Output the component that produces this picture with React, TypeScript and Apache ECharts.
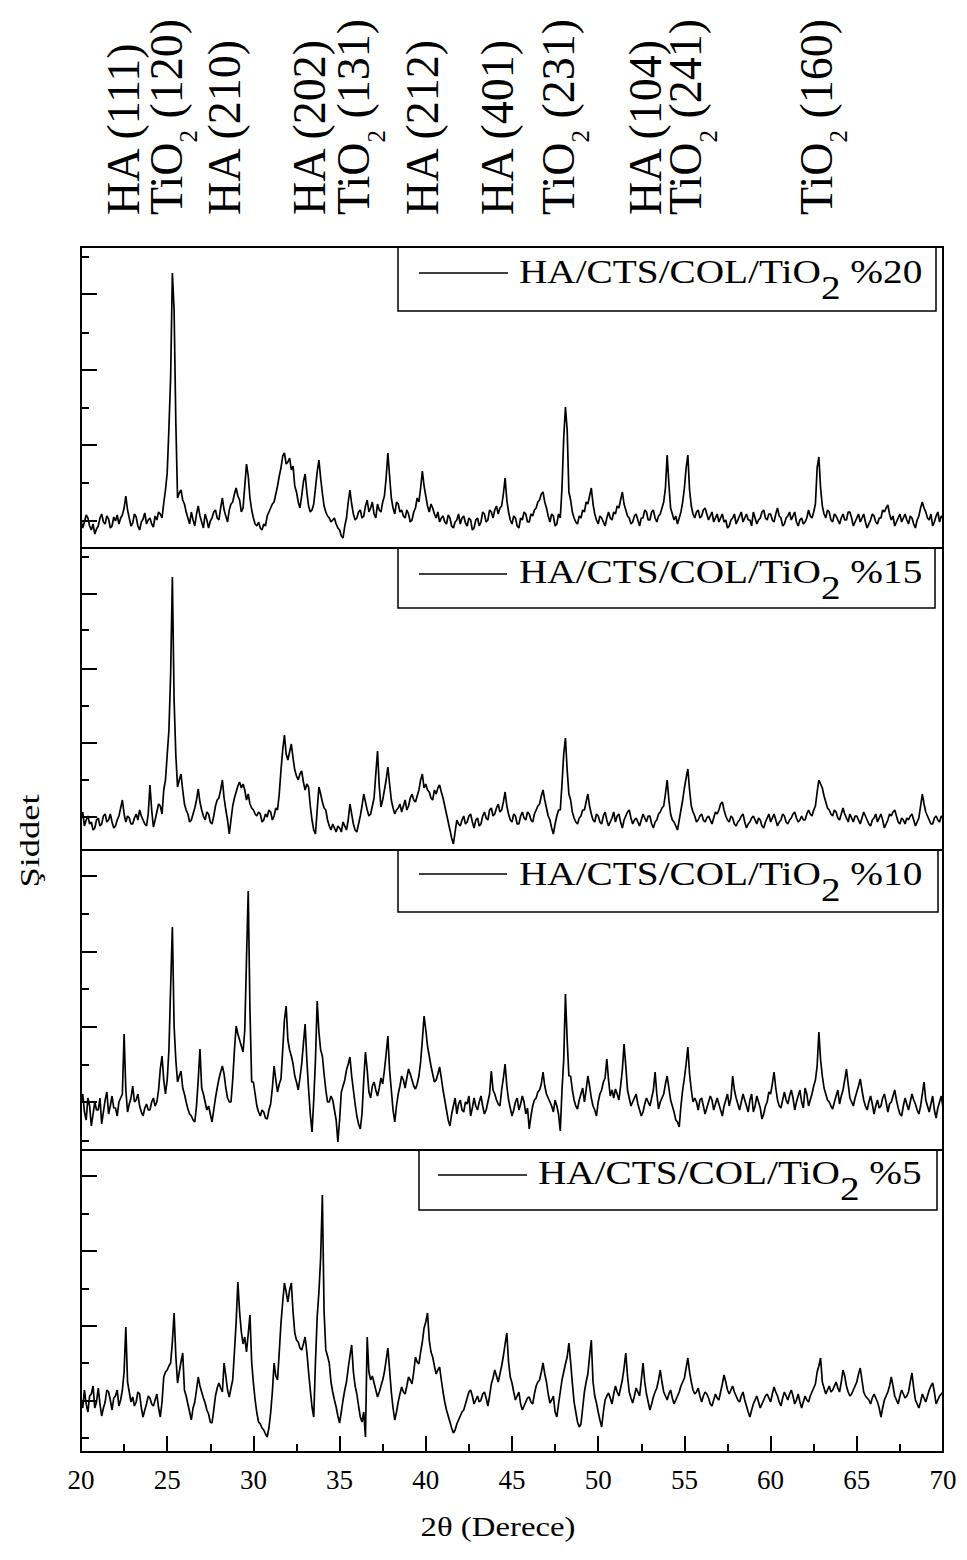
import React, { useEffect, useRef } from 'react';
import * as echarts from 'echarts';

// 2θ sampling of the traces (degrees)
const THETA_START = 20;
const THETA_STEP = 0.1;

// Axis ticks (2θ)
const xMin = 20;
const xMax = 70;
const xInterval = 5;

// Sample names (top to bottom)
const sampleNames = [
  'HA/CTS/COL/TiO2 %20',
  'HA/CTS/COL/TiO2 %15',
  'HA/CTS/COL/TiO2 %10',
  'HA/CTS/COL/TiO2 %5',
];

// Peak assignment labels and the 2θ of their columns
const peakLabels = [
  'HA (111)', 'TiO2 (120)', 'HA (210)', 'HA (202)', 'TiO2 (131)', 'HA (212)',
  'HA (401)', 'TiO2 (231)', 'HA (104)', 'TiO2 (241)', 'TiO2 (160)',
];
const peakLabelTheta = [22.6, 25.05, 28.45, 33.35, 35.95, 39.95, 44.3, 47.8, 52.85, 55.2, 62.75];

// Intensities (a.u.), one value per 0.1° from 20.0° to 70.0° (one row per degree)
const int20 = [
  28, 20, 26, 33, 30, 22, 18, 24, 14, 19,
  22, 30, 34, 26, 24, 32, 29, 20, 22, 31,
  27, 33, 24, 30, 33, 40, 52, 38, 30, 22,
  25, 34, 31, 22, 18, 26, 29, 35, 24, 28,
  30, 24, 21, 32, 28, 36, 34, 30, 45, 58,
  75, 120, 171, 275, 238, 126, 50, 55, 58, 48,
  44, 36, 30, 24, 36, 28, 22, 34, 42, 32,
  26, 20, 34, 28, 20, 27, 30, 36, 38, 30,
  28, 40, 50, 38, 32, 26, 38, 44, 46, 54,
  60, 52, 48, 36, 40, 62, 84, 72, 50, 38,
  30, 24, 22, 26, 20, 18, 24, 22, 32, 36,
  40, 44, 46, 54, 62, 72, 80, 92, 95, 84,
  86, 90, 78, 82, 62, 56, 46, 40, 52, 66,
  74, 56, 42, 36, 38, 44, 60, 76, 88, 70,
  55, 42, 36, 32, 30, 26, 28, 30, 24, 20,
  18, 12, 10, 22, 30, 46, 58, 44, 34, 28,
  30, 36, 38, 30, 32, 42, 48, 36, 40, 46,
  34, 30, 44, 38, 36, 46, 52, 70, 95, 72,
  50, 40, 34, 46, 44, 36, 38, 32, 30, 38,
  34, 26, 28, 36, 40, 50, 46, 60, 77, 62,
  52, 42, 36, 44, 40, 34, 30, 36, 26, 30,
  32, 26, 24, 33, 30, 22, 20, 26, 28, 34,
  24, 30, 32, 25, 22, 30, 28, 18, 20, 28,
  30, 22, 26, 36, 34, 26, 28, 38, 36, 30,
  38, 42, 34, 40, 42, 54, 70, 48, 36, 28,
  24, 32, 30, 22, 20, 30, 28, 36, 34, 26,
  26, 34, 32, 38, 40, 46, 48, 54, 56, 46,
  40, 32, 26, 34, 32, 22, 24, 34, 30, 60,
  110, 141, 118, 56, 48, 36, 30, 26, 24, 32,
  30, 38, 36, 46, 44, 52, 60, 44, 34, 28,
  24, 32, 30, 26, 22, 30, 36, 30, 28, 36,
  34, 42, 40, 48, 56, 44, 38, 32, 30, 24,
  26, 32, 34, 28, 22, 30, 30, 38, 36, 28,
  28, 36, 38, 30, 26, 32, 34, 40, 46, 60,
  93, 64, 40, 34, 28, 32, 24, 30, 36, 46,
  60, 80, 93, 58, 42, 34, 30, 36, 38, 30,
  32, 38, 40, 34, 28, 32, 36, 26, 30, 34,
  26, 30, 34, 26, 28, 20, 22, 28, 30, 34,
  24, 28, 32, 36, 26, 30, 34, 28, 28, 22,
  36, 30, 24, 28, 30, 36, 38, 30, 28, 34,
  34, 28, 26, 34, 40, 32, 30, 22, 24, 30,
  32, 36, 28, 32, 36, 26, 22, 28, 30, 24,
  26, 30, 38, 32, 30, 36, 44, 80, 91, 60,
  42, 34, 30, 38, 36, 28, 26, 34, 32, 28,
  24, 30, 34, 28, 28, 36, 36, 30, 22, 26,
  30, 34, 26, 30, 34, 26, 20, 24, 28, 34,
  32, 26, 24, 30, 30, 38, 36, 40, 43, 34,
  28, 32, 22, 26, 30, 34, 26, 30, 34, 28,
  24, 32, 30, 24, 20, 28, 32, 40, 46, 40,
  36, 30, 28, 34, 22, 26, 32, 36, 26, 32,
  30,
];
const int15 = [
  30, 38, 24, 30, 34, 26, 28, 20, 22, 30,
  32, 24, 26, 34, 36, 28, 30, 36, 28, 22,
  24, 30, 34, 42, 50, 36, 28, 34, 32, 26,
  26, 32, 36, 30, 40, 34, 30, 26, 24, 36,
  65, 40, 23, 30, 38, 46, 44, 36, 60, 70,
  95, 120, 176, 273, 150, 95, 63, 70, 76, 60,
  46, 40, 36, 28, 30, 36, 42, 50, 61, 48,
  40, 34, 30, 38, 36, 28, 26, 34, 44, 50,
  52, 60, 70, 52, 40, 30, 16, 30, 44, 52,
  58, 64, 68, 62, 66, 60, 50, 56, 46, 42,
  40, 36, 34, 38, 36, 28, 30, 36, 33, 40,
  38, 30, 34, 42, 40, 56, 80, 100, 115, 96,
  90, 98, 106, 92, 80, 74, 70, 76, 79, 68,
  60, 66, 63, 44, 30, 20, 16, 40, 63, 56,
  48, 42, 40, 30, 24, 20, 26, 22, 18, 24,
  22, 18, 28, 24, 20, 30, 46, 36, 26, 20,
  18, 26, 34, 44, 56, 48, 40, 34, 36, 44,
  52, 76, 99, 64, 43, 50, 60, 70, 83, 66,
  50, 42, 36, 40, 42, 46, 38, 44, 50, 40,
  44, 52, 56, 50, 48, 54, 60, 70, 76, 62,
  66, 60, 58, 52, 50, 60, 56, 62, 65, 58,
  52, 44, 36, 28, 20, 12, 6, 18, 30, 26,
  24, 30, 34, 26, 28, 34, 36, 28, 22, 30,
  32, 24, 26, 34, 38, 32, 30, 40, 42, 34,
  36, 42, 46, 38, 40, 48, 58, 44, 36, 30,
  28, 36, 34, 26, 26, 34, 38, 32, 30, 38,
  36, 30, 28, 36, 40, 44, 46, 54, 60, 50,
  42, 34, 30, 22, 16, 26, 34, 40, 40, 66,
  96, 112, 80, 56, 50, 38, 32, 28, 26, 32,
  34, 40, 40, 48, 56, 44, 36, 30, 28, 36,
  34, 28, 26, 34, 38, 30, 24, 28, 32, 38,
  28, 34, 36, 28, 22, 30, 34, 38, 40, 32,
  26, 30, 32, 28, 24, 30, 36, 32, 28, 34,
  34, 26, 22, 28, 30, 36, 38, 42, 44, 56,
  70, 50, 36, 30, 28, 24, 20, 30, 40, 50,
  62, 72, 81, 60, 44, 38, 34, 28, 30, 34,
  36, 30, 28, 32, 34, 30, 26, 32, 38, 36,
  40, 46, 48, 40, 34, 30, 28, 34, 32, 26,
  24, 28, 30, 34, 36, 28, 22, 26, 28, 32,
  34, 30, 26, 32, 30, 24, 22, 28, 32, 36,
  28, 32, 36, 30, 24, 28, 30, 36, 34, 28,
  26, 30, 32, 36, 38, 32, 28, 30, 34, 30,
  30, 36, 40, 36, 34, 40, 44, 58, 70, 66,
  62, 54, 48, 42, 40, 36, 34, 40, 38, 32,
  30, 36, 42, 36, 32, 28, 36, 32, 28, 34,
  34, 30, 26, 32, 38, 34, 30, 26, 24, 30,
  32, 36, 28, 32, 36, 30, 22, 26, 30, 36,
  34, 38, 40, 34, 28, 26, 32, 30, 26, 32,
  30, 34, 36, 30, 24, 28, 32, 44, 56, 46,
  38, 34, 30, 26, 26, 32, 34, 30, 28, 34,
  32,
];
const int10 = [
  46, 56, 38, 30, 52, 44, 24, 36, 48, 40,
  40, 52, 26, 38, 50, 58, 36, 44, 54, 42,
  42, 34, 48, 52, 56, 116, 60, 38, 46, 52,
  64, 48, 50, 56, 44, 38, 34, 42, 46, 40,
  40, 48, 52, 44, 48, 60, 81, 94, 70, 56,
  70, 100, 163, 223, 124, 90, 68, 74, 79, 62,
  56, 48, 41, 36, 34, 30, 28, 44, 70, 101,
  62, 56, 48, 40, 44, 36, 28, 40, 52, 62,
  71, 78, 84, 76, 62, 52, 48, 48, 70, 100,
  124, 116, 110, 104, 98, 120, 191, 259, 140, 68,
  68, 56, 44, 38, 34, 40, 38, 32, 31, 40,
  46, 62, 84, 70, 58, 66, 71, 100, 130, 144,
  110, 100, 94, 86, 74, 68, 60, 72, 86, 106,
  126, 90, 61, 36, 18, 50, 90, 149, 118, 100,
  94, 76, 60, 48, 48, 54, 50, 40, 30, 8,
  30, 58, 64, 70, 80, 86, 93, 74, 60, 46,
  34, 26, 21, 36, 70, 98, 80, 58, 52, 64,
  68, 60, 54, 62, 72, 66, 80, 96, 114, 80,
  60, 40, 28, 44, 56, 64, 74, 70, 62, 72,
  81, 76, 70, 64, 61, 66, 74, 88, 110, 134,
  120, 104, 94, 84, 76, 68, 70, 76, 83, 72,
  60, 50, 40, 30, 24, 36, 44, 52, 36, 46,
  50, 40, 38, 48, 46, 54, 34, 42, 52, 44,
  40, 48, 54, 44, 36, 40, 48, 56, 79, 60,
  56, 50, 46, 44, 60, 72, 86, 64, 50, 42,
  34, 40, 48, 52, 40, 46, 54, 48, 36, 42,
  21, 34, 44, 50, 52, 58, 60, 66, 78, 64,
  56, 52, 48, 44, 38, 50, 44, 36, 19, 60,
  90, 156, 110, 74, 74, 60, 50, 44, 41, 50,
  56, 62, 48, 60, 74, 64, 52, 44, 40, 34,
  48, 56, 60, 68, 72, 91, 70, 54, 60, 52,
  61, 56, 50, 64, 80, 106, 84, 60, 52, 44,
  48, 52, 56, 46, 40, 34, 38, 46, 52, 48,
  44, 52, 60, 78, 56, 41, 48, 52, 56, 66,
  74, 62, 50, 44, 38, 30, 28, 23, 44, 60,
  72, 86, 103, 76, 60, 48, 52, 48, 40, 50,
  52, 44, 36, 42, 48, 54, 50, 40, 46, 52,
  46, 40, 34, 44, 50, 56, 44, 52, 74, 60,
  52, 46, 40, 48, 56, 50, 44, 38, 50, 56,
  38, 44, 54, 48, 42, 31, 36, 44, 48, 58,
  56, 66, 78, 62, 50, 44, 42, 50, 58, 50,
  46, 54, 60, 52, 40, 48, 54, 60, 48, 42,
  62, 56, 44, 50, 56, 64, 70, 84, 118, 90,
  74, 62, 56, 50, 48, 44, 41, 48, 54, 60,
  46, 54, 60, 70, 81, 66, 52, 48, 44, 52,
  58, 64, 71, 60, 50, 44, 40, 48, 54, 46,
  36, 44, 50, 42, 44, 52, 56, 48, 38, 46,
  48, 54, 60, 50, 42, 36, 34, 44, 52, 46,
  40, 48, 56, 50, 46, 40, 36, 44, 56, 68,
  50, 44, 38, 46, 54, 40, 32, 42, 48, 54,
  42,
];
const int5 = [
  52, 44, 62, 48, 40, 56, 58, 66, 44, 50,
  64, 48, 36, 44, 50, 62, 60, 52, 42, 54,
  56, 62, 46, 52, 62, 80, 125, 70, 60, 50,
  55, 46, 50, 60, 58, 44, 35, 42, 48, 56,
  54, 48, 46, 52, 58, 44, 35, 50, 75, 80,
  82, 86, 89, 110, 139, 96, 69, 80, 90, 99,
  62, 56, 48, 40, 32, 44, 50, 62, 75, 66,
  60, 54, 49, 42, 38, 30, 29, 42, 56, 64,
  69, 64, 60, 89, 76, 62, 55, 64, 72, 100,
  130, 170, 140, 120, 108, 115, 100, 118, 137, 90,
  69, 52, 39, 30, 28, 24, 22, 18, 15, 24,
  39, 60, 89, 76, 72, 100, 129, 150, 169, 160,
  150, 162, 169, 140, 119, 112, 110, 104, 102, 108,
  115, 100, 80, 62, 45, 35, 90, 135, 160, 194,
  257, 140, 102, 96, 89, 70, 60, 52, 45, 36,
  29, 40, 52, 62, 70, 84, 96, 107, 80, 66,
  58, 46, 35, 30, 40, 15, 115, 80, 72, 76,
  69, 62, 55, 60, 66, 72, 80, 92, 104, 82,
  60, 44, 32, 40, 50, 58, 65, 60, 58, 66,
  75, 72, 68, 80, 95, 90, 88, 100, 110, 124,
  130, 139, 112, 100, 95, 86, 78, 82, 85, 72,
  60, 50, 42, 36, 30, 24, 19, 22, 28, 32,
  36, 40, 42, 48, 54, 60, 62, 56, 48, 52,
  56, 50, 52, 58, 60, 54, 46, 56, 68, 74,
  82, 76, 70, 78, 86, 96, 108, 119, 90, 75,
  69, 60, 52, 56, 60, 48, 42, 46, 50, 54,
  55, 50, 48, 58, 66, 70, 72, 80, 89, 78,
  70, 58, 49, 52, 56, 40, 35, 48, 60, 72,
  80, 88, 95, 109, 90, 69, 50, 40, 30, 25,
  28, 44, 60, 70, 78, 96, 112, 70, 56, 49,
  40, 32, 25, 40, 52, 56, 59, 54, 48, 58,
  66, 60, 56, 64, 72, 84, 99, 76, 60, 54,
  49, 56, 64, 60, 56, 72, 89, 70, 58, 50,
  42, 48, 55, 60, 64, 72, 82, 70, 60, 56,
  52, 58, 62, 54, 48, 52, 56, 60, 66, 70,
  74, 84, 94, 80, 70, 62, 58, 60, 64, 56,
  50, 56, 60, 58, 54, 48, 46, 52, 58, 54,
  52, 60, 68, 77, 70, 62, 58, 62, 66, 60,
  56, 52, 50, 56, 60, 52, 46, 40, 35, 42,
  48, 52, 56, 50, 44, 48, 52, 56, 58, 54,
  50, 58, 65, 60, 56, 50, 46, 54, 60, 56,
  52, 58, 62, 56, 48, 52, 58, 50, 44, 50,
  56, 52, 50, 56, 60, 64, 68, 80, 86, 94,
  70, 64, 58, 62, 66, 60, 62, 66, 70, 64,
  60, 70, 82, 76, 66, 60, 56, 58, 62, 66,
  70, 78, 84, 72, 60, 56, 54, 52, 48, 54,
  58, 54, 50, 44, 35, 44, 52, 56, 60, 66,
  75, 66, 56, 52, 48, 56, 62, 58, 54, 56,
  60, 70, 79, 64, 52, 48, 44, 50, 58, 54,
  50, 56, 62, 66, 69, 60, 48, 52, 56, 58,
  60,
];
const intensities = [int20, int15, int10, int5];

// Per-panel intensity range and tick values (a.u.)
const yMax = [301, 302, 300, 302];
const yMajorTicks = [
  [27.5, 103, 178, 254],
  [33, 107, 181, 256],
  [48, 123, 198, 274],
  [51, 126, 201, 276],
];
const yMinorTicks = [
  [65, 140, 215, 291],
  [70, 144, 220, 293],
  [9, 85, 161, 236],
  [14, 89, 163, 238],
];

// ---------- layout (pixels) ----------
const FONT = "'Liberation Serif', 'Times New Roman', serif";
const W = 967;
const H = 1560;
const PLOT_LEFT = 81;
const PLOT_RIGHT = 943;
const panelTop = [247, 548, 850, 1150];
const panelHeight = [301, 302, 300, 302];
const legendLayout = [
  { boxL: 398, boxR: 936, boxB: 311, lx1: 419, lx2: 508, ly: 273, tx: 519, ty: 256 },
  { boxL: 398, boxR: 935, boxB: 608, lx1: 419, lx2: 507, ly: 574, tx: 519, ty: 556 },
  { boxL: 398, boxR: 938, boxB: 912, lx1: 419, lx2: 507, ly: 874, tx: 519, ty: 858 },
  { boxL: 419, boxR: 937, boxB: 1210, lx1: 438, lx2: 527, ly: 1175, tx: 538, ty: 1157 },
];

function toRich(s: string) {
  return s
    .split('TiO2')
    .map((p) => (p ? `{n|${p}}` : ''))
    .join('{n|TiO}{s|2}');
}

export default function App() {
  const ref = useRef<HTMLDivElement>(null);

  useEffect(() => {
    const el = ref.current!;
    const chart = echarts.init(el, undefined, { renderer: 'svg' });

    const grids = panelTop.map((top, k) => ({
      left: PLOT_LEFT,
      width: PLOT_RIGHT - PLOT_LEFT,
      top,
      height: panelHeight[k],
      show: true,
      borderColor: '#000',
      borderWidth: 2,
      backgroundColor: 'transparent',
    }));

    const xAxes = panelTop.map((_, k) => {
      const bottom = k === panelTop.length - 1;
      return {
        type: 'value',
        gridIndex: k,
        min: xMin,
        max: xMax,
        interval: xInterval,
        position: 'bottom',
        axisLine: { show: bottom, onZero: false, lineStyle: { color: '#000', width: 2 } },
        axisTick: { show: bottom, inside: true, length: 16, lineStyle: { color: '#000', width: 2 } },
        minorTick: { show: bottom, splitNumber: 2, length: 8, lineStyle: { color: '#000', width: 2 } },
        axisLabel: {
          show: bottom,
          color: '#000',
          fontFamily: FONT,
          fontSize: 27,
          margin: 14,
        },
        splitLine: { show: false },
        minorSplitLine: { show: false },
      };
    });

    const yAxes: any[] = [];
    panelTop.forEach((_, k) => {
      yAxes.push({
        type: 'value',
        gridIndex: k,
        min: 0,
        max: yMax[k],
        position: 'left',
        axisLine: { show: true, onZero: false, lineStyle: { color: '#000', width: 2 } },
        axisTick: {
          show: true,
          inside: true,
          length: 16,
          customValues: yMajorTicks[k],
          lineStyle: { color: '#000', width: 2 },
        },
        axisLabel: { show: false },
        splitLine: { show: false },
      });
      yAxes.push({
        type: 'value',
        gridIndex: k,
        min: 0,
        max: yMax[k],
        position: 'left',
        axisLine: { show: false, onZero: false },
        axisTick: {
          show: true,
          inside: true,
          length: 8,
          customValues: yMinorTicks[k],
          lineStyle: { color: '#000', width: 2 },
        },
        axisLabel: { show: false },
        splitLine: { show: false },
      });
    });

    const series = intensities.map((arr, k) => ({
      type: 'line',
      name: sampleNames[k],
      xAxisIndex: k,
      yAxisIndex: 2 * k,
      data: arr.map((v, i) => [+(THETA_START + i * THETA_STEP).toFixed(2), v]),
      showSymbol: false,
      symbol: 'none',
      lineStyle: { color: '#000', width: 1.7 },
      silent: true,
    }));

    chart.setOption({
      animation: false,
      backgroundColor: '#fff',
      textStyle: { fontFamily: FONT },
      grid: grids,
      xAxis: xAxes,
      yAxis: yAxes,
      series,
    });

    const graphics: any[] = [];

    // Legend boxes
    legendLayout.forEach((L, k) => {
      graphics.push({
        type: 'rect',
        shape: { x: L.boxL, y: panelTop[k], width: L.boxR - L.boxL, height: L.boxB - panelTop[k] },
        style: { fill: 'none', stroke: '#000', lineWidth: 1.5 },
      });
      graphics.push({
        type: 'line',
        shape: { x1: L.lx1, y1: L.ly, x2: L.lx2, y2: L.ly },
        style: { stroke: '#000', lineWidth: 1.5 },
      });
      graphics.push({
        type: 'text',
        x: L.tx,
        y: L.ty,
        scaleX: 1.19,
        style: {
          text: toRich(sampleNames[k]),
          align: 'left',
          verticalAlign: 'top',
          fill: '#000',
          rich: {
            n: { fontFamily: FONT, fontSize: 33, lineHeight: 36, verticalAlign: 'top', fill: '#000' },
            s: {
              fontFamily: FONT,
              fontSize: 33,
              lineHeight: 36,
              verticalAlign: 'top',
              padding: [16, 0, 0, 0],
              fill: '#000',
            },
          },
        },
      });
    });

    // Peak labels (rotated)
    peakLabels.forEach((lab, i) => {
      const cx = chart.convertToPixel({ xAxisIndex: 0 }, peakLabelTheta[i]) as number;
      graphics.push({
        type: 'text',
        x: cx - 25,
        y: 215,
        rotation: Math.PI / 2,
        style: {
          text: toRich(lab),
          align: 'left',
          verticalAlign: 'top',
          fill: '#000',
          rich: {
            n: { fontFamily: FONT, fontSize: 46, lineHeight: 50, verticalAlign: 'top', fill: '#000' },
            s: {
              fontFamily: FONT,
              fontSize: 25,
              lineHeight: 24,
              verticalAlign: 'top',
              padding: [33, 0, 0, 0],
              fill: '#000',
            },
          },
        },
      });
    });

    // Axis titles
    graphics.push({
      type: 'text',
      x: 30,
      y: 841,
      rotation: Math.PI / 2,
      scaleX: 1.3,
      style: {
        text: 'Şiddet',
        fontFamily: FONT,
        fontSize: 28,
        align: 'center',
        verticalAlign: 'middle',
        fill: '#000',
      },
    });
    graphics.push({
      type: 'text',
      x: 498,
      y: 1527,
      scaleX: 1.17,
      style: {
        text: '2θ (Derece)',
        fontFamily: FONT,
        fontSize: 28,
        align: 'center',
        verticalAlign: 'middle',
        fill: '#000',
      },
    });

    chart.setOption({ graphic: graphics });

    return () => chart.dispose();
  }, []);

  return (
    <div
      ref={ref}
      style={{ position: 'absolute', left: 0, top: 0, width: W, height: H }}
    />
  );
}
